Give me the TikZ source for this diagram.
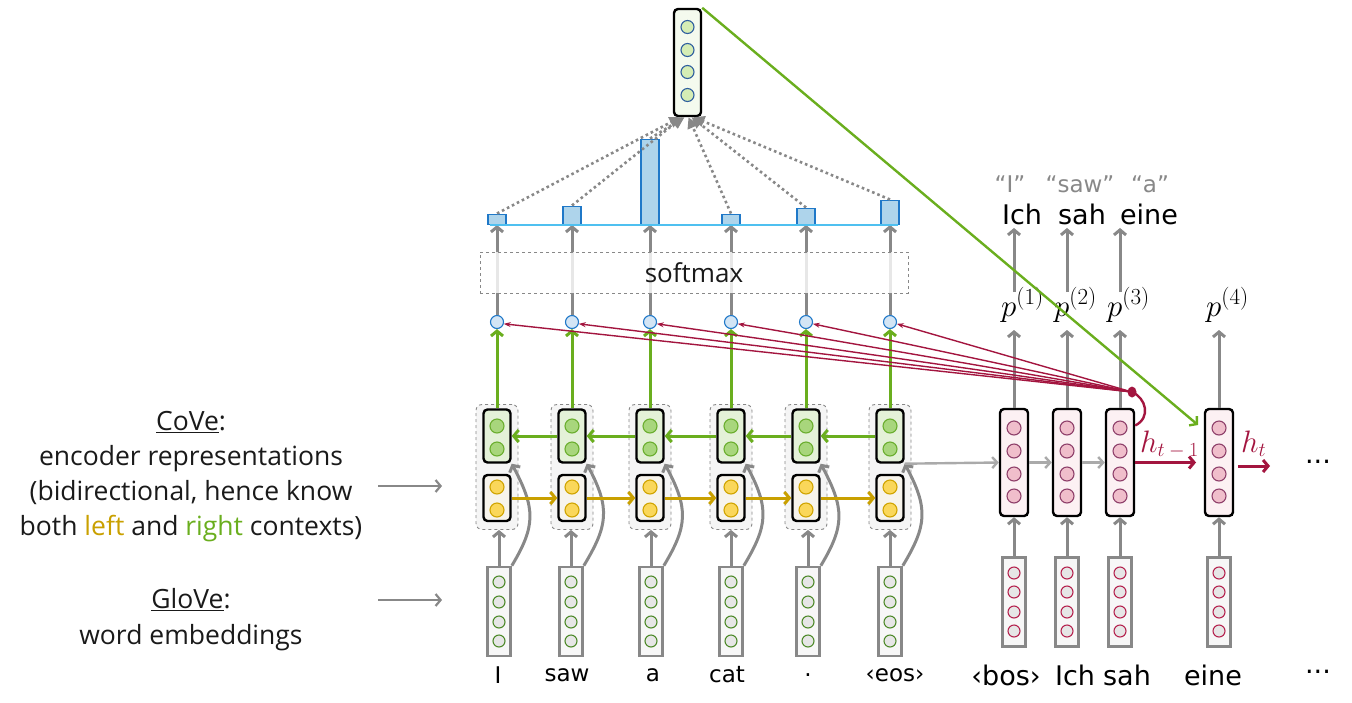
\RequirePackage{fix-cm}
\documentclass[tikz,border=0pt]{standalone}
\usepackage{fontspec}
\setmainfont{Open Sans}
\newfontfamily\wordfont{DejaVu Sans}
\usetikzlibrary{arrows.meta}
\definecolor{arrgray}{HTML}{888888}
\definecolor{lgray}{HTML}{AAAAAA}
\definecolor{grn}{HTML}{6AAE1E}
\definecolor{grnfill}{HTML}{E4F1D8}
\definecolor{grncirc}{HTML}{A8D67C}
\definecolor{grnbord}{HTML}{6AAE2E}
\definecolor{ylw}{HTML}{C9A000}
\definecolor{ylwfill}{HTML}{F7F4EC}
\definecolor{ylwcirc}{HTML}{FAD75A}
\definecolor{ylwbord}{HTML}{D0A400}
\definecolor{boxfill}{HTML}{F5F5F5}
\definecolor{dred}{HTML}{A3153F}
\definecolor{pinkfill}{HTML}{FCF1F3}
\definecolor{pinkcirc}{HTML}{F0BECB}
\definecolor{pinkbord}{HTML}{8E3F6A}
\definecolor{embfill}{HTML}{F7F7F7}
\definecolor{embcirc}{HTML}{E6E6E6}
\definecolor{embgrn}{HTML}{4E8A2A}
\definecolor{embred}{HTML}{B5234F}
\definecolor{bluel}{HTML}{4FC0F0}
\definecolor{barfill}{HTML}{AED4EB}
\definecolor{barbord}{HTML}{1F78C8}
\definecolor{scfill}{HTML}{D3E5F5}
\definecolor{topfill}{HTML}{F4FAEE}
\definecolor{topcirc}{HTML}{D5EDB5}
\definecolor{topbord}{HTML}{2F5F9F}
\definecolor{txt}{HTML}{1A1A1A}
\newcommand{\supr}[1]{\hbox{\fontsize{23}{23}\selectfont$#1$}}
\newcommand{\subr}[1]{\hbox{\fontsize{20}{20}\selectfont$#1$}}
\tikzset{
  cell/.style={draw=black, line width=2.4pt, rounded corners=4pt, minimum width=27pt, inner sep=0pt},
  embbox/.style={draw=arrgray, line width=2.6pt, fill=embfill, minimum width=23pt, minimum height=89pt, inner sep=0pt},
  ball/.style={circle, inner sep=0pt, minimum size=#1, line width=1.1pt},
  dashbox/.style={draw=arrgray, dashed, line width=0.9pt, fill=boxfill, rounded corners=6pt, minimum width=42pt, minimum height=125pt, inner sep=0pt},
  bar/.style={draw=barbord, fill=barfill, line width=1.5pt, minimum width=18pt, inner sep=0pt, anchor=south},
  garrow/.style={draw=arrgray, line width=3pt, -{Straight Barb[length=5pt,width=12pt]}},
  lgarrow/.style={draw=lgray, line width=2.4pt, -{Straight Barb[length=5pt,width=11pt]}},
  grnarrow/.style={draw=grn, line width=3pt, -{Straight Barb[length=5pt,width=12pt]}},
  ylwarrow/.style={draw=ylw, line width=3pt, -{Straight Barb[length=5pt,width=12pt]}},
  dotarrow/.style={draw=arrgray, line width=2.6pt, dash pattern=on 2.6pt off 3pt, -{Triangle[length=11pt,width=11pt]}},
  redline/.style={draw=dred, line width=1.4pt, -{Stealth[length=7pt,width=5pt]}},
  redarrow/.style={draw=dred, line width=3pt, -{Straight Barb[length=5pt,width=12pt]}},
  wd/.style={font=\wordfont\fontsize{23}{27}\selectfont, text=black},
  dwd/.style={font=\wordfont\fontsize{27}{30}\selectfont, text=black},
  mth/.style={font=\fontsize{31}{34}\selectfont},
}
\begin{document}
\begin{tikzpicture}[x=1pt,y=-1pt]
\useasboundingbox (0,0) rectangle (1352,702);

% ---------------- encoder ----------------
\foreach \i/\x/\ex/\wx/\w/\bh in {1/497/499/498/I/10, 2/572/571/567/saw/18, 3/650/651/653/a/85, 4/731/731/727/cat/10, 5/806/808/808/./16, 6/890/890/895/‹eos›/24} {
  \node[dashbox] (box\i) at (\x,467) {};
  \node[cell, fill=grnfill, minimum height=53pt] (g\i) at (\x,436) {};
  \node[cell, fill=ylwfill, minimum height=46pt] (y\i) at (\x,498) {};
  \node[ball=14pt, draw=grnbord, fill=grncirc] (g\i-a) at (\x,426) {};
  \node[ball=14pt, draw=grnbord, fill=grncirc] (g\i-b) at (\x,449) {};
  \node[ball=14pt, draw=ylwbord, fill=ylwcirc] (y\i-a) at (\x,487) {};
  \node[ball=14pt, draw=ylwbord, fill=ylwcirc] (y\i-b) at (\x,510) {};
  % glove embedding
  \node[embbox] (emb\i) at (\ex,611.5) {};
  \node[ball=12pt, draw=embgrn, fill=embcirc] (emb\i-a) at (\ex,582) {};
  \node[ball=12pt, draw=embgrn, fill=embcirc] (emb\i-b) at (\ex,602) {};
  \node[ball=12pt, draw=embgrn, fill=embcirc] (emb\i-c) at (\ex,622) {};
  \node[ball=12pt, draw=embgrn, fill=embcirc] (emb\i-d) at (\ex,641) {};
  \node[wd] (w\i) at (\wx,675) {\w};
  \draw[garrow] (emb\i.north) -- (emb\i.north |- box\i.south);
  \draw[garrow] (emb\i.north east) .. controls +(24,-40) and +(24,45) .. (g\i.south east);
  % score circle
  \node[ball=13pt, draw=barbord, fill=scfill] (s\i) at (\x,322) {};
  \draw[grnarrow] (g\i.north) -- (s\i.south);
  % bar
  \node[bar, minimum height=\bh pt] (bar\i) at (\x,225) {};
  \draw[garrow] (s\i.north) -- (bar\i.south);
}
\foreach \i/\j in {1/2,2/3,3/4,4/5,5/6} {
  \draw[ylwarrow] (y\i.east) -- (y\j.west);
  \draw[grnarrow] (g\j.west) -- (g\i.east);
}

% blue line
\coordinate (bl) at (490,225);
\coordinate (br) at (898,225);
\draw[bluel, line width=2pt] (bl) -- (br);

% softmax box
\node[draw=arrgray, dashed, line width=0.9pt, fill=white, fill opacity=0.8, text opacity=1,
      minimum width=428pt, minimum height=41pt, inner sep=0pt,
      font=\fontsize{26}{30}\selectfont, text=txt] (softmax) at (694,272.5) {softmax};

% top vector
\node[cell, fill=topfill, minimum height=107pt] (top) at (687.5,62.5) {};
\foreach \k/\yy in {a/27, b/50, c/72, d/95}
  \node[ball=13pt, draw=topbord, fill=topcirc] (top-\k) at (687.5,\yy) {};

% dotted arrows
\foreach \i/\o in {1/-7, 2/-5, 3/-3, 4/1, 5/4, 6/6}
  \draw[dotarrow] (bar\i.north) -- ([xshift=\o pt]top.south);

% ---------------- decoder ----------------
\foreach \i/\x in {1/1014, 2/1067, 3/1120, 4/1219} {
  \node[cell, fill=pinkfill, minimum width=28pt, minimum height=107pt] (d\i) at (\x,462.5) {};
  \node[ball=14pt, draw=pinkbord, fill=pinkcirc] (d\i-a) at (\x,428) {};
  \node[ball=14pt, draw=pinkbord, fill=pinkcirc] (d\i-b) at (\x,451) {};
  \node[ball=14pt, draw=pinkbord, fill=pinkcirc] (d\i-c) at (\x,474) {};
  \node[ball=14pt, draw=pinkbord, fill=pinkcirc] (d\i-d) at (\x,496) {};
  \node[embbox] (de\i) at (\x,602) {};
  \node[ball=12pt, draw=embred, fill=embcirc] (de\i-a) at (\x,573) {};
  \node[ball=12pt, draw=embred, fill=embcirc] (de\i-b) at (\x,592) {};
  \node[ball=12pt, draw=embred, fill=embcirc] (de\i-c) at (\x,612) {};
  \node[ball=12pt, draw=embred, fill=embcirc] (de\i-d) at (\x,631) {};
  \draw[garrow] (de\i.north) -- (d\i.south);
  \coordinate (pa\i) at (\x,330);
  \coordinate (pb\i) at (\x,292);
  \draw[garrow] (d\i.north) -- (pa\i);
  \node[mth, anchor=base west, inner sep=0pt] (p\i) at (\x-13,316) {$p^{\supr{(\i)}}$};
}
\foreach \i/\x/\w/\q/\qx in {1/1022/Ich/“I”/1010, 2/1082/sah/“saw”/1080, 3/1149/eine/“a”/1150} {
  \node[dwd] (o\i) at (\x,214) {\w};
  \node[wd, text=arrgray] (q\i) at (\qx,184) {\q};
  \draw[garrow] (pb\i) -- (pb\i |- o\i.south);
}
% decoder words
\node[dwd] (dw1) at (1006,675) {‹bos›};
\node[dwd] (dw2) at (1075,675) {Ich};
\node[dwd] (dw3) at (1127,675) {sah};
\node[dwd] (dw4) at (1213,675) {eine};
\node[dwd] (dw5) at (1318,672) {...};
\node[dwd] (dots) at (1318,462) {...};

% horizontal gray arrows
\draw[lgarrow] (g6.south east) -- (d1.west);
\draw[lgarrow] (d1.east) -- (d2.west);
\draw[lgarrow] (d2.east) -- (d3.west);

% red hidden states
\coordinate (ht1) at (1196,462.5);
\coordinate (ht2s) at (1238,466);
\coordinate (ht2) at (1270,466);
\draw[redarrow] (d3.east) -- (ht1);
\draw[redarrow] (ht2s) -- (ht2);
\node[mth, text=dred, anchor=base west, inner sep=0pt] (hl1) at (1140,452) {$h_{\subr{t-1}}$};
\node[mth, text=dred, anchor=base west, inner sep=0pt] (hl2) at (1241,452) {$h_{\subr{t}}$};

% attention lines
\coordinate (rd) at (1132,392);
\foreach \i in {1,...,6}
  \draw[redline] (rd) -- (s\i.-15);
\draw[dred, line width=2.4pt] ([yshift=37pt]d3.east) .. controls +(16,-8) and +(14,6) .. (rd);
\fill[dred] (rd) ellipse (4.5 and 5.5);

% green long connector
\coordinate (gt) at (1198,425);
\draw[grnarrow, line width=2.4pt] (top.north east) -- (gt);

% ---------------- left labels ----------------
\node[align=center, font=\fontsize{26.5}{35}\selectfont, text=txt] (cove) at (191,477) {\underline{CoVe}:\\encoder representations\\(bidirectional, hence know\\both \textcolor{ylw}{left} and \textcolor{grn}{right} contexts)};
\node[align=center, font=\fontsize{26.5}{36}\selectfont, text=txt] (glove) at (191,620) {\underline{GloVe}:\\word embeddings};
\coordinate (la1) at (378,486);
\coordinate (la2) at (442,486);
\coordinate (lb1) at (378,600);
\coordinate (lb2) at (442,600);
\draw[garrow, line width=2.2pt] (la1) -- (la2);
\draw[garrow, line width=2.2pt] (lb1) -- (lb2);
\end{tikzpicture}
\end{document}
